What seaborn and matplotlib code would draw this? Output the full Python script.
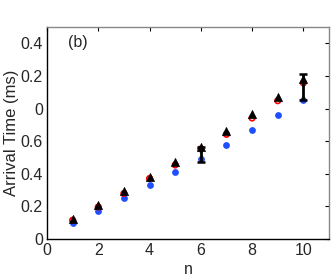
import matplotlib
matplotlib.use("Agg")
import matplotlib.pyplot as plt
import seaborn as sns
import pandas as pd
import numpy as np

n = [1, 2, 3, 4, 5, 6, 7, 8, 9, 10]
black_tri = [0.123, 0.209, 0.294, 0.382, 0.470, 0.566, 0.664, 0.765, 0.869, 0.980]
red_open = [0.115, 0.196, 0.279, 0.371, 0.454, 0.552, 0.642, 0.742, 0.848, 0.957]
blue_fill = [0.100, 0.174, 0.250, 0.331, 0.409, 0.493, 0.579, 0.669, 0.759, 0.853]
err_n = [6, 10]
err_val = [0.566, 0.980]
err_low = [0.094, 0.127]
err_high = [0.0, 0.032]

xticks = [0, 2, 4, 6, 8, 10]
yticks = [0, 0.2, 0.4, 0.6, 0.8, 1.0, 1.2]
ytick_labels = ["0", "0.2", "0.4", "0.6", "0", "0.2", "0.4"]

sns.set_style("white")
plt.rcParams["font.family"] = ["Liberation Sans", "DejaVu Sans"]

df = pd.DataFrame({"n": n, "tri": black_tri, "red": red_open, "blue": blue_fill})

fig = plt.figure(figsize=(3.32, 2.77), dpi=100)
ax = fig.add_axes([47/332, 1-239/277, (329-47)/332, (239-27)/277])

sns.scatterplot(data=df, x="n", y="blue", ax=ax, color="#1f4fff", s=24,
                edgecolor="#1f4fff", linewidth=0, zorder=3)
sns.scatterplot(data=df, x="n", y="red", ax=ax, facecolor="none", s=16,
                edgecolor="#ff0000", linewidth=1.2, zorder=4)
ax.errorbar(err_n, err_val, yerr=[err_low, err_high], fmt="none",
            ecolor="black", elinewidth=2.0, capsize=3, capthick=1.8, zorder=5)
sns.scatterplot(data=df, x="n", y="tri", ax=ax, color="black", marker="^",
                s=34, edgecolor="black", linewidth=0.5, zorder=6)

ax.set_xlim(0, 11)
ax.set_ylim(0, 1.3)
ax.set_xticks(xticks)
ax.set_yticks(yticks)
ax.set_yticklabels(ytick_labels)
ax.set_xlabel("n", fontsize=11.5, labelpad=3)
ax.set_ylabel("Arrival Time (ms)", fontsize=12, labelpad=1)
ax.tick_params(axis="both", labelsize=11.5, direction="in", length=3,
               top=True, right=True, color="black", pad=3)
for s in ["left", "bottom"]:
    ax.spines[s].set_color("black")
    ax.spines[s].set_linewidth(1.0)
for s in ["top", "right"]:
    ax.spines[s].set_color("#888888")
    ax.spines[s].set_linewidth(1.0)
ax.text(0.075, 0.925, "(b)", transform=ax.transAxes, fontsize=11.5,
        ha="left", va="center")

fig.savefig("out.png", dpi=100)
